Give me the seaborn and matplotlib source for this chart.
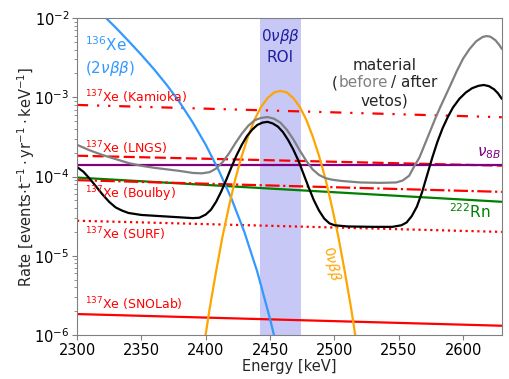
import matplotlib
matplotlib.use("Agg")
import numpy as np
import matplotlib.pyplot as plt
import seaborn as sns

sns.set_style("ticks", {"axes.edgecolor": "grey", "xtick.color": "grey", "ytick.color": "grey"})
plt.rcParams['font.family'] = ['DejaVu Sans']

#
#  Values. Energies in keV; the flat
#  backgrounds are rates (events/t/yr/keV) at both ends of the window,
#  the curved spectra are read as log10 of the rate.
#

ends = [2300, 2630]

xe137_kamioka = [8.0e-4, 5.6e-4]
xe137_lngs = [1.83e-4, 1.37e-4]
xe137_boulby = [9.0e-5, 6.4e-5]
xe137_surf = [2.77e-5, 2.0e-5]
xe137_snolab = [1.84e-6, 1.31e-6]
rn222 = [9.7e-5, 4.8e-5]
nu8b = [1.38e-4, 1.38e-4]

e_2nu = [2320, 2330, 2340, 2350, 2360, 2370, 2380, 2390, 2400, 2410,
         2420, 2430, 2440, 2450, 2454]
log_2nu = [-1.96, -2.12, -2.29, -2.465, -2.65, -2.85, -3.07, -3.32, -3.60,
           -3.92, -4.28, -4.70, -5.20, -5.80, -6.07]

e_0nu = [2398, 2403, 2408, 2413, 2418, 2423, 2428, 2433, 2438, 2443, 2448,
         2453, 2458, 2463, 2468, 2473, 2478, 2483, 2488, 2493, 2498, 2503,
         2508, 2513, 2518]
log_0nu = [-6.20, -5.67, -5.20, -4.76, -4.38, -4.03, -3.74, -3.49, -3.28,
           -3.12, -3.01, -2.94, -2.92, -2.94, -3.01, -3.12, -3.28, -3.49,
           -3.74, -4.03, -4.38, -4.76, -5.20, -5.67, -6.20]

e_before = [2300, 2310, 2320, 2330, 2340, 2350, 2360, 2370, 2380, 2390,
            2397, 2403, 2408, 2413, 2418, 2423, 2428, 2433, 2438, 2443,
            2448, 2453, 2458, 2463, 2468, 2473, 2478, 2483, 2488, 2493,
            2498, 2505, 2520, 2535, 2548, 2553, 2558, 2562, 2566, 2570,
            2574, 2578, 2582, 2586, 2590, 2595, 2600, 2605, 2610, 2615,
            2618, 2621, 2625, 2628, 2630]
log_before = [-3.60, -3.67, -3.73, -3.78, -3.83, -3.865, -3.89, -3.91, -3.93,
              -3.955, -3.96, -3.945, -3.90, -3.82, -3.71, -3.58, -3.46, -3.36,
              -3.29, -3.26, -3.25, -3.27, -3.32, -3.41, -3.53, -3.67, -3.80,
              -3.91, -3.98, -4.02, -4.04, -4.055, -4.075, -4.08, -4.075, -4.05,
              -3.99, -3.87, -3.76, -3.60, -3.44, -3.28, -3.13, -2.99, -2.85,
              -2.67, -2.51, -2.39, -2.295, -2.24, -2.228, -2.235, -2.28, -2.34,
              -2.39]

e_after = [2300, 2305, 2310, 2315, 2320, 2325, 2330, 2335, 2340, 2350,
           2365, 2380, 2390, 2395, 2400, 2404, 2408, 2412, 2416, 2420,
           2424, 2428, 2432, 2436, 2440, 2444, 2448, 2452, 2456, 2460,
           2464, 2468, 2472, 2476, 2480, 2484, 2488, 2492, 2496, 2500,
           2510, 2530, 2545, 2552, 2556, 2560, 2564, 2568, 2572, 2576,
           2580, 2584, 2588, 2592, 2597, 2602, 2607, 2612, 2616, 2620,
           2624, 2627, 2630]
log_after = [-3.88, -3.94, -4.03, -4.13, -4.23, -4.32, -4.39, -4.43, -4.46,
             -4.485, -4.50, -4.515, -4.525, -4.52, -4.48, -4.42, -4.32, -4.19,
             -4.04, -3.88, -3.73, -3.60, -3.49, -3.41, -3.35, -3.32, -3.31,
             -3.33, -3.37, -3.44, -3.54, -3.66, -3.80, -3.97, -4.14, -4.30,
             -4.43, -4.53, -4.59, -4.615, -4.63, -4.635, -4.635, -4.615, -4.58,
             -4.50, -4.38, -4.20, -3.98, -3.76, -3.56, -3.39, -3.25, -3.13,
             -3.02, -2.94, -2.885, -2.855, -2.845, -2.86, -2.90, -2.95, -3.02]

roi = [2442, 2474]

#%%
#
#  Draw it
#

fig, ax = plt.subplots(figsize=(5.1, 3.79), dpi=100)
fig.subplots_adjust(left=0.151, right=0.984, bottom=0.116, top=0.9525)

ax.axvspan(roi[0], roi[1], color='#c8c8f6', zorder=0, lw=0)

lw = 1.6
sns.lineplot(x=ends, y=xe137_kamioka, ax=ax, color='red', lw=lw, linestyle=(0, (5, 4, 1, 4, 1, 4)))
sns.lineplot(x=ends, y=xe137_lngs, ax=ax, color='red', lw=lw, linestyle=(0, (5, 2)))
sns.lineplot(x=ends, y=nu8b, ax=ax, color='purple', lw=lw)
sns.lineplot(x=ends, y=rn222, ax=ax, color='green', lw=lw)
sns.lineplot(x=ends, y=xe137_boulby, ax=ax, color='red', lw=lw, linestyle='-.')
sns.lineplot(x=ends, y=xe137_surf, ax=ax, color='red', lw=lw, linestyle=':')
sns.lineplot(x=ends, y=xe137_snolab, ax=ax, color='red', lw=lw)

sns.lineplot(x=e_2nu, y=np.power(10.0, log_2nu), ax=ax, color='#3399ff', lw=lw)
sns.lineplot(x=e_0nu, y=np.power(10.0, log_0nu), ax=ax, color='orange', lw=lw)
sns.lineplot(x=e_before, y=np.power(10.0, log_before), ax=ax, color='grey', lw=lw)
sns.lineplot(x=e_after, y=np.power(10.0, log_after), ax=ax, color='black', lw=lw)

ax.set_yscale('log')
ax.set_xlim(2300, 2630)
ax.set_ylim(1e-6, 1e-2)
ax.set_xticks([2300, 2350, 2400, 2450, 2500, 2550, 2600])
ax.tick_params(which='major', length=3.5, labelsize=10.5, labelcolor='black', pad=2)
ax.tick_params(which='minor', length=2)
ax.set_xlabel("Energy [keV]", fontsize=10.5, labelpad=1)
ax.set_ylabel(r"Rate [events$\cdot$t$^{-1}\cdot$yr$^{-1}\cdot$keV$^{-1}$]", fontsize=10.5,
              labelpad=-2)

#
#  Labels
#

ax.text(2306, 4.6e-3, r"$^{136}$Xe", color='#3399ff', fontsize=11, va='center')
ax.text(2306, 2.3e-3, r"$(2\nu\beta\beta)$", color='#3399ff', fontsize=11, va='center')

red_labels = [("Kamioka", 1.0e-3), ("LNGS", 2.27e-4), ("Boulby", 6.0e-5),
              ("SURF", 1.88e-5), ("SNOLab", 2.46e-6)]
for name, yy in red_labels:
    ax.text(2306, yy, r"$^{137}$Xe (" + name + ")", color='red', fontsize=9, va='center')

ax.text(2458, 5.9e-3, r"$0\nu\beta\beta$", color='#1f1fa0', fontsize=11, ha='center', va='center')
ax.text(2458, 3.13e-3, "ROI", color='#1f1fa0', fontsize=11, ha='center', va='center')

ax.text(2539, 2.48e-3, "material", fontsize=11, ha='center', va='center')
t1 = ax.text(2497.5, 1.53e-3, "(", fontsize=11, ha='left', va='center')
t2 = ax.annotate("before", xy=(1, 0.5), xycoords=t1, xytext=(1, 0), textcoords='offset points',
                 fontsize=11, color='grey', va='center')
ax.annotate("/ after", xy=(1, 0.5), xycoords=t2, xytext=(2, 0), textcoords='offset points',
            fontsize=11, va='center')
ax.text(2539, 9.1e-4, "vetos)", fontsize=11, ha='center', va='center')

ax.text(2620, 2.0e-4, r"$\nu_{8B}$", color='purple', fontsize=11, ha='center', va='center')
ax.text(2605, 3.6e-5, r"$^{222}$Rn", color='green', fontsize=11, ha='center', va='center')
ax.text(2497.5, 8.0e-6, r"$0\nu\beta\beta$", color='orange', fontsize=10, ha='center', va='center',
        rotation=-78)

fig.savefig('out.png', dpi=100)
